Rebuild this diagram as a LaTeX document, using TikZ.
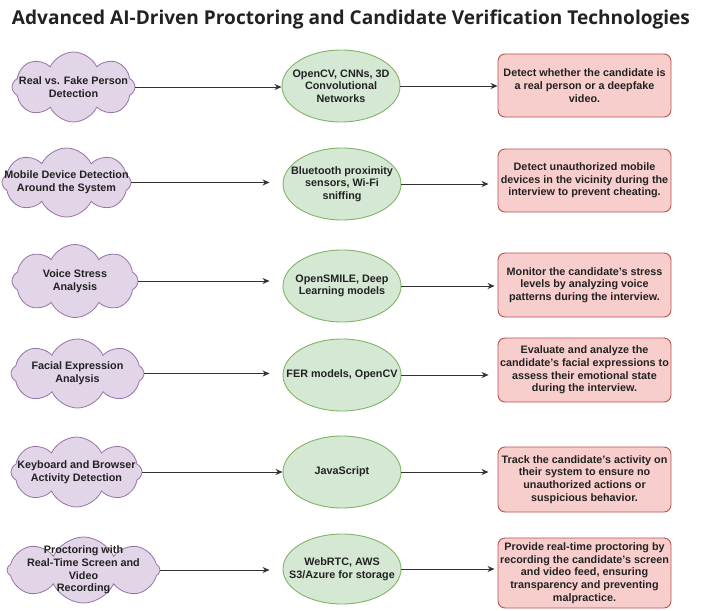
\documentclass[tikz,border=0pt]{standalone}
\usepackage{fontspec}
\usepackage{graphicx}
\setmainfont{Liberation Sans}
\newfontfamily\titlefont{Open Sans}
\usetikzlibrary{shapes.symbols,shapes.geometric,arrows.meta}
\definecolor{cloudfill}{HTML}{E1D5E7}
\definecolor{cloudline}{HTML}{9673A6}
\definecolor{techfill}{HTML}{D5E8D4}
\definecolor{techline}{HTML}{82B366}
\definecolor{goalfill}{HTML}{F8CECC}
\definecolor{goalline}{HTML}{B85450}
\definecolor{ink}{HTML}{222222}
\definecolor{wire}{HTML}{333333}
\begin{document}
\begin{tikzpicture}[x=1pt,y=-1pt,
  cloudshape/.style={cloud, cloud puffs=8, cloud puff arc=130, cloud ignores aspect,
    draw=cloudline, fill=cloudfill, line width=0.8pt, inner sep=0pt},
  ctext/.style={font=\fontsize{10.8}{12.7}\selectfont\bfseries, text=ink, align=center, inner sep=0pt},
  tech/.style={ellipse, draw=techline, fill=techfill, line width=0.9pt, inner sep=0pt,
    minimum width=118pt, minimum height=72pt},
  goal/.style={rectangle, rounded corners=7pt, draw=goalline, fill=goalfill, line width=0.9pt,
    minimum width=173pt, minimum height=63pt, inner sep=0pt, align=center, text=ink,
    font=\fontsize{10.8}{12.7}\selectfont\bfseries},
  arr/.style={draw=wire, line width=1pt, -{Stealth[length=7pt,width=6pt]}}
]
\useasboundingbox[fill=white] (0,0) rectangle (706,610);

\node[anchor=base, text=ink, inner sep=0pt] (title) at (351,24.5)
  {\resizebox{678pt}{!}{\titlefont\fontsize{17}{20}\selectfont\bfseries Advanced AI-Driven Proctoring and Candidate Verification Technologies}};

% Row 1
\node[cloudshape, minimum width=123pt, minimum height=70pt] (c1) at (73.5,87) {};
\node[ctext] (t1) at (c1.center) {Real vs. Fake Person\\Detection};
\node[tech] (e1) at (341,86) {};
\node[ctext] (u1) at (e1.center) {OpenCV, CNNs, 3D\\Convolutional\\Networks};
\node[goal] (g1) at (584.5,85.5) {Detect whether the candidate is\\a real person or a deepfake\\video.};

% Row 2
\node[cloudshape, minimum width=129pt, minimum height=69pt] (c2) at (66.5,182.5) {};
\node[ctext] (t2) at (c2.center) {Mobile Device Detection\\Around the System};
\node[tech] (e2) at (342,184) {};
\node[ctext] (u2) at (e2.center) {Bluetooth proximity\\sensors, Wi-Fi\\sniffing};
\node[goal] (g2) at (584.5,180.5) {Detect unauthorized mobile\\devices in the vicinity during the\\interview to prevent cheating.};

% Row 3
\node[cloudshape, minimum width=126pt, minimum height=73pt] (c3) at (75,281) {};
\node[ctext] (t3) at (c3.center) {Voice Stress\\Analysis};
\node[tech] (e3) at (342,286) {};
\node[ctext] (u3) at (e3.center) {OpenSMILE, Deep\\Learning models};
\node[goal, minimum height=64pt] (g3) at (584.5,285) {Monitor the candidate's stress\\levels by analyzing voice\\patterns during the interview.};

% Row 4
\node[cloudshape, minimum width=133pt, minimum height=69pt] (c4) at (77.5,373.5) {};
\node[ctext] (t4) at (c4.center) {Facial Expression\\Analysis};
\node[tech] (e4) at (342,375) {};
\node[ctext] (u4) at (e4.center) {FER models, OpenCV};
\node[goal, minimum height=64pt] (g4) at (584.5,370) {Evaluate and analyze the\\candidate's facial expressions to\\assess their emotional state\\during the interview.};

% Row 5
\node[cloudshape, minimum width=131pt, minimum height=70pt] (c5) at (76.5,472) {};
\node[ctext] (t5) at (c5.center) {Keyboard and Browser\\Activity Detection};
\node[tech] (e5) at (342,472) {};
\node[ctext] (u5) at (e5.center) {JavaScript};
\node[goal, minimum height=65pt] (g5) at (584.5,479.5) {Track the candidate's activity on\\their system to ensure no\\unauthorized actions or\\suspicious behavior.};

% Row 6
\node[cloudshape, minimum width=153pt, minimum height=66pt] (c6) at (83.5,570) {};
\node[ctext] (t6) at (c6.center) {Proctoring with\\Real-Time Screen and\\Video\\Recording};
\node[tech, minimum height=70pt] (e6) at (342,569) {};
\node[ctext] (u6) at (e6.center) {WebRTC, AWS\\S3/Azure for storage};
\node[goal, minimum height=70pt] (g6) at (584.5,573) {Provide real-time proctoring by\\recording the candidate's screen\\and video feed, ensuring\\transparency and preventing\\malpractice.};

% Connectors
\draw[arr] (c1.east) -- (c1.east -| e1.west);
\draw[arr] (e1.east) -- (e1.east -| g1.west);
\draw[arr, shorten >=13pt] (c2.east) -- (c2.east -| e2.west);
\draw[arr, shorten >=9pt] (e2.east) -- (e2.east -| g2.west);
\draw[arr, shorten >=13pt] (c3.east) -- (c3.east -| e3.west);
\draw[arr, shorten >=3pt] (e3.east) -- (e3.east -| g3.west);
\draw[arr, shorten >=13pt] (c4.east) -- (c4.east -| e4.west);
\draw[arr, shorten >=9pt] (e4.east) -- (e4.east -| g4.west);
\draw[arr] (c5.east) -- (c5.east -| e5.west);
\draw[arr, shorten >=9pt] (e5.east) -- (e5.east -| g5.west);
\draw[arr, shorten >=13pt] (c6.east) -- (c6.east -| e6.west);
\draw[arr, shorten >=3pt] (e6.east) -- (e6.east -| g6.west);
\end{tikzpicture}
\end{document}
